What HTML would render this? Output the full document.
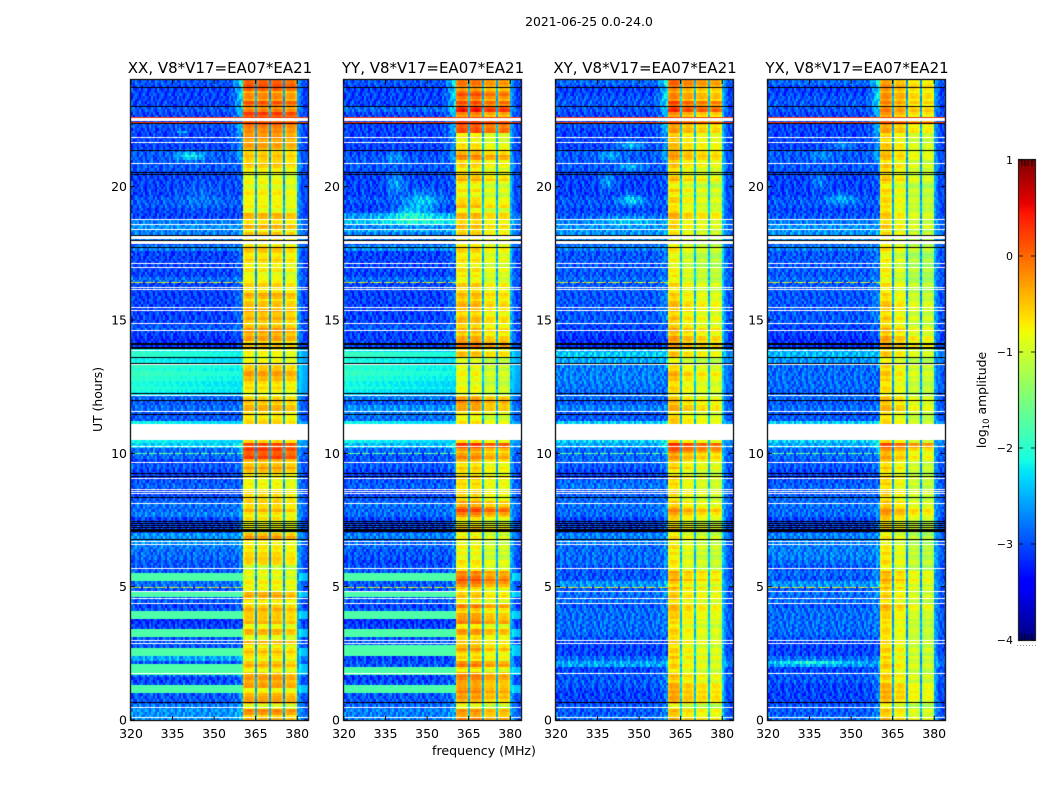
<!DOCTYPE html>
<html lang="en"><head><meta charset="utf-8"><title>2021-06-25 spectrogram</title>
<style>
html,body{margin:0;padding:0;background:#fff;width:1050px;height:800px;overflow:hidden}
#fig{position:relative;width:1050px;height:800px;background:#fff}
canvas{position:absolute;display:block}
svg{position:absolute;left:0;top:0}
text{font-family:"DejaVu Sans","Liberation Sans",sans-serif;fill:#000}
</style></head>
<body>
<div id="fig">
<canvas id="hm0" width="177" height="640" style="left:131px;top:80px"></canvas>
<canvas id="hm1" width="177" height="640" style="left:344px;top:80px"></canvas>
<canvas id="hm2" width="177" height="640" style="left:556px;top:80px"></canvas>
<canvas id="hm3" width="177" height="640" style="left:768px;top:80px"></canvas>
<canvas id="cb" width="16" height="480" style="left:1019px;top:160px"></canvas>
<svg id="ov" width="1050" height="800" viewBox="0 0 1050 800">
<text x="589" y="26" font-size="12.4" text-anchor="middle">2021-06-25 0.0-24.0</text>
<text x="220" y="73" font-size="15" text-anchor="middle">XX, V8*V17=EA07*EA21</text>
<text x="433" y="73" font-size="15" text-anchor="middle">YY, V8*V17=EA07*EA21</text>
<text x="645" y="73" font-size="15" text-anchor="middle">XY, V8*V17=EA07*EA21</text>
<text x="857" y="73" font-size="15" text-anchor="middle">YX, V8*V17=EA07*EA21</text>
<text x="484" y="755" font-size="12.6" text-anchor="middle">frequency (MHz)</text>
<text transform="translate(102,399.5) rotate(-90)" font-size="12.4" text-anchor="middle">UT (hours)</text>
<text transform="translate(986,400) rotate(-90)" font-size="12.4" text-anchor="middle">log<tspan font-size="8.5" dy="3">10</tspan><tspan dy="-3"> amplitude</tspan></text>
</svg>
</div>
<script>
// Tick labels
const xTicks = [320, 335, 350, 365, 380];
const yTicks = [0, 5, 10, 15, 20];
const cbTicks = [1, 0, -1, -2, -3, -4];

// log10 amplitude of the 320-360 MHz band, one value per 0.2 h (one line = 2 h)
const lowXX = [
-2.6,-2.6,-2.7,-2.9,-2.9,-2.9,-2.9,-3.0,-2.8,-2.9,
-2.9,-2.5,-2.9,-2.9,-2.9,-2.9,-2.9,-3.0,-3.1,-2.9,
-2.9,-3.0,-2.9,-2.9,-2.9,-2.8,-2.9,-2.9,-2.9,-2.9,
-2.8,-2.8,-2.7,-2.6,-2.6,-3.0,-3.0,-3.0,-2.7,-2.8,
-2.8,-2.9,-3.0,-2.8,-2.9,-3.0,-3.0,-2.9,-3.0,-2.8,
-2.8,-2.3,-2.2,-2.2,-2.2,-2.2,-2.9,-2.9,-2.8,-2.9,
-2.8,-2.1,-2.05,-2.0,-1.95,-1.95,-1.95,-2.1,-2.0,-2.1,
-3.1,-3.1,-3.0,-2.9,-3.0,-3.0,-3.0,-3.0,-3.0,-3.0,
-3.0,-3.0,-2.8,-3.0,-3.0,-3.0,-3.0,-3.0,-2.7,-3.0,
-2.7,-2.7,-2.6,-2.7,-3.0,-3.0,-2.9,-2.9,-3.0,-3.0,
-3.0,-3.0,-3.0,-2.9,-2.9,-2.9,-2.9,-3.0,-3.0,-3.0,
-3.0,-2.9,-3.0,-3.0,-2.9,-3.0,-3.0,-3.0,-3.0,-2.9];
const lowYY = [
-2.7,-2.7,-2.8,-2.9,-2.9,-2.9,-2.9,-3.0,-3.0,-2.9,
-2.9,-3.0,-2.9,-2.9,-2.9,-2.9,-2.9,-3.0,-3.1,-2.9,
-2.9,-3.0,-2.9,-2.9,-2.9,-2.9,-2.9,-2.9,-2.9,-3.0,
-2.9,-2.9,-2.8,-2.8,-2.7,-3.0,-3.0,-3.0,-2.8,-2.8,
-2.8,-2.9,-3.0,-2.8,-2.9,-3.0,-3.0,-2.9,-2.9,-2.9,
-2.8,-2.4,-2.2,-2.2,-2.2,-2.2,-2.8,-2.7,-2.6,-2.9,
-2.7,-2.2,-2.1,-2.05,-2.0,-1.95,-2.0,-2.05,-1.95,-2.2,
-3.0,-3.0,-3.0,-2.9,-3.0,-3.0,-3.0,-3.0,-3.0,-3.0,
-3.0,-3.0,-2.8,-3.0,-3.0,-3.0,-3.0,-3.0,-2.6,-3.0,
-2.7,-2.5,-2.7,-2.4,-2.6,-3.0,-3.0,-2.9,-3.0,-3.0,
-3.0,-3.0,-3.0,-2.9,-2.9,-2.9,-3.0,-3.0,-3.0,-3.0,
-3.0,-3.0,-3.0,-3.0,-2.8,-3.0,-3.0,-3.0,-3.0,-2.9];
const lowXY = [
-2.8,-2.9,-2.9,-3.0,-3.0,-3.0,-2.9,-2.9,-2.9,-3.0,
-2.5,-2.8,-3.0,-3.0,-3.0,-2.9,-2.8,-2.8,-2.8,-2.8,
-2.8,-2.9,-2.8,-2.8,-2.9,-2.6,-2.9,-2.9,-2.9,-2.8,
-2.8,-2.8,-2.8,-2.7,-2.7,-3.0,-3.0,-3.0,-2.8,-2.8,
-2.8,-2.8,-2.9,-2.7,-2.8,-3.0,-3.0,-2.9,-2.8,-2.8,
-2.8,-2.5,-2.3,-2.3,-2.3,-2.3,-2.9,-2.9,-2.7,-2.9,
-2.8,-2.8,-2.75,-2.7,-2.7,-2.7,-2.7,-2.5,-2.3,-2.5,
-3.1,-3.1,-3.0,-3.0,-2.9,-2.9,-2.9,-2.9,-2.9,-2.9,
-2.9,-2.9,-2.8,-2.9,-2.9,-2.9,-2.9,-2.9,-2.7,-2.9,
-2.6,-2.6,-2.6,-2.7,-2.9,-3.0,-2.9,-2.9,-3.0,-3.0,
-3.0,-3.0,-3.0,-2.9,-2.9,-2.9,-2.9,-3.0,-3.0,-3.0,
-3.0,-2.9,-2.9,-3.0,-2.9,-2.9,-2.9,-3.0,-3.0,-2.8];
const lowYX = [
-2.8,-2.9,-2.9,-3.0,-3.0,-3.0,-3.0,-2.9,-2.9,-3.0,
-2.6,-2.8,-3.0,-3.0,-3.0,-2.9,-2.8,-2.8,-2.8,-2.8,
-2.8,-2.9,-2.8,-2.8,-2.9,-2.6,-2.9,-2.8,-2.9,-2.8,
-2.7,-2.7,-2.7,-2.7,-2.7,-3.0,-3.0,-3.0,-2.8,-2.8,
-2.8,-2.8,-2.9,-2.8,-2.9,-3.0,-3.0,-2.9,-2.9,-2.8,
-2.8,-2.5,-2.3,-2.3,-2.3,-2.3,-2.9,-2.9,-2.8,-2.9,
-2.8,-2.85,-2.8,-2.8,-2.8,-2.8,-2.8,-2.6,-2.4,-2.5,
-3.1,-3.1,-3.0,-3.0,-2.9,-2.9,-2.9,-2.9,-2.9,-2.9,
-2.9,-2.9,-2.8,-2.9,-2.9,-2.9,-2.9,-2.9,-2.7,-2.9,
-2.6,-2.6,-2.6,-2.7,-2.9,-3.0,-2.9,-2.9,-3.0,-3.0,
-3.0,-3.0,-3.0,-2.9,-2.9,-2.9,-2.9,-3.0,-3.0,-3.0,
-3.0,-3.0,-2.9,-3.0,-2.9,-2.9,-2.9,-3.0,-3.0,-2.8];

// Flat calibrator strips in the low band, [start hour, end hour]
const stripsXX = [[1.05,1.33],[1.75,2.1],[2.45,2.7],[3.15,3.4],[3.8,4.1],[4.56,4.83],[5.25,5.5]];
const stripsYY = [[1.05,1.33],[1.75,2.0],[2.45,2.75],[3.15,3.4],[3.8,4.1],[4.56,4.83],[5.25,5.5]];
const stripsXY = [];
const stripsYX = [];
const stripLevel = -1.78;

// log10 amplitude of the 360-380 MHz blocks, one value per 0.2 h
const highXX = [
-.3,-.1,-.6,-.2,-.1,-.6,-.2,-.1,-.25,-.5,
-.3,-.6,-.35,-.5,-.35,-.6,-.3,-.55,-.3,-.45,
-.2,-.5,-.4,-.2,-.6,-.6,-.7,-.7,-.75,-.5,
-.3,-.5,-.6,-.5,-.2,-.7,-.7,-.5,-.6,-.3,
-.5,-.3,-.5,-.5,-.6,-.7,-.3,-.2,-.2,.1,
.15,.1,-.5,-.5,-.5,-.5,-.4,-.5,-.3,-.3,
-.5,-.6,-.5,-.3,-.2,-.2,-.4,-.5,-.7,-.5,
-.4,-.2,-.15,-.2,-.4,-.3,-.2,-.4,-.4,-.3,
-.4,-.5,-.5,-.7,-.6,-.5,-.4,-.4,-.4,-.6,
-.4,-.5,-.3,-.4,-.3,-.6,-.6,-.7,-.5,-.7,
-.6,-.7,-.6,-.5,-.3,-.4,-.3,-.2,-.1,-.05,
-.1,0,-.1,.2,-.05,.05,-.1,-.1,0,.15];
const highYY = [
-.1,-.2,-.6,-.4,-.05,-.05,-.3,-.05,-.1,-.5,
-.05,-.5,-.5,-.2,-.5,-.4,-.2,-.5,-.05,-.3,
-.4,-.1,-.5,-.4,-.5,-.05,0,-.1,-.5,-.6,
-.7,-.7,-.7,-.7,-.7,-.4,-.6,-.6,-.1,.05,
-.3,-.4,-.5,-.4,-.5,-.5,-.5,-.5,-.3,-.1,
-.2,.15,-.6,-.6,-.6,-.6,-.6,-.6,-.3,-.05,
-.3,-.7,-.7,-.7,-.7,-.7,-.7,-.7,-.4,-.5,
-.05,-.3,-.35,-.4,-.35,-.4,-.4,-.35,-.4,-.4,
-.4,-.5,-.6,-.6,-.6,-.6,-.5,-.5,-.5,-.5,
-.5,-.4,-.4,-.4,-.35,-.6,-.35,-.6,-.7,-.6,
-.6,-.3,-.4,-.6,-.4,-.1,-.2,-.6,-.6,-.6,
0,.1,0,-.05,.3,.05,-.05,0,-.2,0];
const highXY = [
-.3,-.4,-.6,-.3,-.1,-.2,-.3,-.4,-.4,-.5,
-.5,-.4,-.5,-.5,-.5,-.4,-.5,-.5,-.5,-.5,
-.3,-.4,-.4,-.4,-.3,-.5,-.2,-.3,-.5,-.6,
-.6,-.6,-.6,-.6,-.6,-.5,-.6,-.5,-.3,-.1,
-.5,-.5,-.5,-.4,-.5,-.5,-.6,-.4,-.3,-.2,
0,.2,-.5,-.5,-.5,-.5,-.3,-.6,-.3,-.3,
-.5,-.5,-.5,-.4,-.3,-.4,-.5,-.6,-.4,-.5,
-.2,-.2,-.3,-.3,-.5,-.4,-.4,-.4,-.4,-.5,
-.5,-.5,-.6,-.6,-.7,-.7,-.7,-.6,-.6,-.6,
-.6,-.5,-.5,-.4,-.3,-.4,-.6,-.5,-.6,-.5,
-.6,-.3,-.5,-.5,-.3,-.2,-.1,-.4,-.3,-.4,
-.2,-.1,-.1,-.1,.2,.1,-.1,-.1,-.1,.1];
const highYX = [
-.4,-.5,-.6,-.5,-.2,-.3,-.4,-.5,-.5,-.5,
-.5,-.5,-.6,-.5,-.6,-.5,-.6,-.5,-.6,-.6,
-.4,-.4,-.5,-.5,-.4,-.5,-.3,-.4,-.6,-.6,
-.6,-.6,-.7,-.7,-.7,-.6,-.6,-.5,-.3,-.2,
-.5,-.5,-.5,-.5,-.5,-.6,-.6,-.5,-.4,-.3,
-.2,0,-.6,-.6,-.6,-.6,-.5,-.6,-.4,-.4,
-.5,-.6,-.6,-.5,-.5,-.5,-.5,-.6,-.5,-.5,
-.3,-.3,-.4,-.4,-.6,-.5,-.5,-.5,-.5,-.6,
-.6,-.6,-.7,-.7,-.7,-.7,-.7,-.7,-.6,-.6,
-.6,-.6,-.5,-.5,-.5,-.5,-.6,-.6,-.6,-.6,
-.6,-.4,-.5,-.5,-.5,-.4,-.3,-.5,-.5,-.5,
-.3,-.2,-.2,-.2,-.1,-.1,-.2,-.2,-.2,-.1];

// Level offset of each of the four 5 MHz blocks
const blockOffsetXX = [.05, .05, .05, -.05];
const blockOffsetYY = [.1, .1, -.1, -.1];
const blockOffsetXY = [.1, -.1, -.2, -.25];
const blockOffsetYX = [.15, -.05, -.25, -.3];

// Shape across a block's six channels
const blockProfile = [-.15, -.03, 0, 0, -.03, -.15];
// Row-to-row ripple inside the blocks
const blockRipple = [.1,-.12,.04,.15,-.08,-.15,.06,.12,-.04,-.14,.09,-.06,.13];
// Level in the notch between blocks, per panel
const gapLevels = [-2.6, -2.5, -2.4, -2.6];
// Rise toward the block edge for the last seven low-band channels
const rampProfile = [.05, .1, .2, .35, .5, .7, .9];
// Strength of that rise per hour
const rampByHour = [.3,.3,.1,.1,.2,.2,.1,.3,.1,.2,.4,.1,0,.1,.2,.3,.2,.2,.1,.1,.2,.5,.7,.9];
// Channels above 380 MHz
const edgeProfile = [.25, .1, 0, 0, -.1, -.1];

// Broad emission features: hour, MHz, half-height (h), half-width (MHz), boost
const blobsXX = [[21.1,341,.14,5,.9],[22.0,338,.08,2,.6],[19.6,345,.5,8,.2]];
const blobsYY = [[20.06,338.4,.4,3,.5],[19.4,348,.4,6,.6],[19.0,343,.25,6,.5],[18.7,346.7,.2,15,.5],[21.05,338,.2,3,.4]];
const blobsXY = [[20.15,338.3,.3,2.5,.5],[19.45,346.7,.2,4,.7],[21.1,339,.15,4,.5],[21.5,346.7,.15,5,.6],[20.7,346.7,.15,4,.5],[18.7,346,.15,12,.5]];
const blobsYX = [[20.15,338.3,.3,2.5,.35],[19.5,346,.2,5,.5],[21.1,339,.15,4,.35],[21.5,346.7,.15,5,.35],[2.1,335,.08,14,.6]];

// Narrow lines of interference in the low band, hours
const rfiXX = [5.0, 16.42];
const rfiYY = [5.0, 16.42];
const rfiXY = [5.0, 16.42];
const rfiYX = [5.0, 16.42];
const rfiHalfDim = [10.0, 14.62];

// Hand-typed fine grain added to the cells
const grain = [
[.1,-.3,.4,-.1,-.4,.2,.5,-.2,0,-.4,.3,-.1,.2],
[-.4,.2,-.1,.3,.1,-.3,-.1,.4,-.4,.2,0,.5,-.3],
[.3,0,-.4,.5,-.2,.1,-.4,.2,.3,-.1,-.3,.1,-.2],
[-.1,.4,.2,-.3,0,.4,.1,-.4,.1,.5,-.2,-.4,.3],
[-.3,-.2,.1,.2,-.4,-.1,.3,0,-.3,.2,.4,-.1,.1],
[.5,-.1,-.3,0,.3,-.4,.2,.4,-.2,-.4,.1,.3,-.4],
[0,.3,-.2,-.4,.4,.1,-.3,-.1,.5,.1,-.4,.2,0],
[-.2,-.4,.5,.1,-.1,.3,0,-.4,.2,-.3,.3,-.2,.4],
[.2,.1,-.3,.4,-.4,-.2,.4,.1,-.1,.3,-.1,-.4,.1],
[-.4,.3,0,-.2,.2,.5,-.3,.2,-.4,0,.4,.1,-.3],
[.1,-.1,.3,-.4,-.3,0,.2,-.2,.4,-.4,-.2,.5,-.1]];
// Column shift of the grain on each row, breaks up the tile
const grainShift = [0,7,3,11,5,9,1,12,4,8,2,10,6,3,9,0,5];

// Flagged (blank) time ranges and single lines, hours
const whiteBands = [[10.5,11.1],[18.03,18.14],[17.85,17.96],[22.47,22.57]];
const whiteLines = [.1,.48,1.75,2.9,3.0,4.37,4.56,4.85,5.71,6.6,6.72,8.12,8.5,8.58,8.67,9.07,9.67,10.28,11.6,12.17,13.35,13.87,14.62,14.87,15.37,15.5,16.15,16.25,17.0,17.13,18.43,18.6,18.8,20.9,21.67,21.87];
const blackBands = [[7.05,7.17],[13.92,13.99],[21.33,21.38]];
const blackLines = [.68,6.78,7.22,7.31,7.4,7.47,8.35,9.15,9.26,11.47,12.0,12.27,13.4,13.6,14.1,14.15,17.75,18.0,18.18,20.46,20.56,22.4,23.02,23.72];
const hotLines = [22.62, 22.43];

const lows = [lowXX, lowYY, lowXY, lowYX];
const strips = [stripsXX, stripsYY, stripsXY, stripsYX];
const highs = [highXX, highYY, highXY, highYX];
const offsets = [blockOffsetXX, blockOffsetYY, blockOffsetXY, blockOffsetYX];
const blobs = [blobsXX, blobsYY, blobsXY, blobsYX];
const rfis = [rfiXX, rfiYY, rfiXY, rfiYX];

const panelLeft = [131, 344, 556, 768];
const panelW = 177, panelTop = 80, panelH = 640;
const CH = 0.72, DATA_STEP = 0.2, FINE_STEP = 0.1, HOURS = 24, NCH = 89, BLOCK_START = 56;
const LOW_SHIFT = -0.06, LOW_GRAIN = 0.72, HIGH_SHIFT = -0.2;

function xScale(f) { return (f - 320) * 2.77; }
function yScale(h) { return panelH - h * panelH / HOURS; }
function interp(x, x0, x1, y0, y1) { return y0 + (y1 - y0) * (x - x0) / (x1 - x0); }
function jet(t) {
  t = Math.max(0, Math.min(1, t));
  const seg = (pts) => {
    for (let i = 1; i < pts.length; i++) if (t <= pts[i][0]) return interp(t, pts[i-1][0], pts[i][0], pts[i-1][1], pts[i][1]);
    return pts[pts.length-1][1];
  };
  const r = seg([[0,0],[.35,0],[.66,1],[.89,1],[1,.5]]);
  const g = seg([[0,0],[.125,0],[.375,1],[.64,1],[.91,0],[1,0]]);
  const b = seg([[0,.5],[.11,1],[.34,1],[.65,0],[1,0]]);
  return 'rgb(' + Math.round(r*255) + ',' + Math.round(g*255) + ',' + Math.round(b*255) + ')';
}
function levelColor(v) { return jet((v + 4) / 5); }
function grainAt(r, c) {
  const row = grain[r % grain.length];
  return row[(c + grainShift[r % grainShift.length]) % row.length];
}
function lowAt(p, h) {
  const mid = h + FINE_STEP / 2;
  for (const s of strips[p]) if (mid >= s[0] && mid <= s[1]) return stripLevel;
  const di = Math.min(lows[p].length - 1, Math.floor(h / DATA_STEP));
  return lows[p][di];
}

function cellValue(p, r, c) {
  const h = r * FINE_STEP, f = 320 + c * CH;
  const di = Math.min(highs[p].length - 1, Math.floor(h / DATA_STEP));
  const low = lowAt(p, h), high = highs[p][di];
  const g = grainAt(r, c);
  if (c < BLOCK_START) {
    if (low === stripLevel) return low + g * 0.02;
    if (low > -2.25) return low + g * 0.22 + blockRipple[r % blockRipple.length] * 0.5 - (c / BLOCK_START) * 0.2;
    let v = low + LOW_SHIFT + g * LOW_GRAIN;
    const rampIdx = c - (BLOCK_START - rampProfile.length);
    if (rampIdx >= 0) v += rampProfile[rampIdx] * rampByHour[Math.floor(h)];
    for (const b of blobs[p]) {
      const dh = (h - b[0]) / b[2], df = (f - b[1]) / b[3];
      v += b[4] * Math.exp(-(dh*dh + df*df));
    }
    return v;
  }
  const k = c - BLOCK_START;
  if (k < 28) {
    const w = k % 7, bi = Math.floor(k / 7);
    if (w === 6) return gapLevels[p] + g * 0.4;
    const base = high > -0.05 ? high : high + HIGH_SHIFT;
    return base + offsets[p][bi] + blockProfile[w] + blockRipple[r % blockRipple.length] + g * 0.12;
  }
  const e = edgeProfile[Math.min(edgeProfile.length - 1, k - 28)];
  return low * 0.5 - 1.55 + e + g * (low > -2.25 ? 0.1 : 0.5);
}

function drawPanel(p) {
  const ctx = document.getElementById('hm' + p).getContext('2d');
  const nRows = Math.round(HOURS / FINE_STEP);
  for (let r = 0; r < nRows; r++) {
    const y1 = Math.round(yScale(r * FINE_STEP)), y0 = Math.round(yScale((r + 1) * FINE_STEP));
    for (let c = 0; c < NCH; c++) {
      const x0 = Math.round(xScale(320 + c * CH)), x1 = Math.round(xScale(320 + (c + 1) * CH));
      ctx.fillStyle = levelColor(cellValue(p, r, c));
      ctx.fillRect(x0, y0, x1 - x0, y1 - y0);
    }
  }
  const band = (a, b, col) => {
    const y0 = Math.round(yScale(b)), y1 = Math.round(yScale(a));
    ctx.fillStyle = col;
    ctx.fillRect(0, y0, panelW, Math.max(1, y1 - y0));
  };
  const line = (h, col) => {
    ctx.fillStyle = col;
    ctx.fillRect(0, Math.round(yScale(h)), panelW, 1);
  };
  // one-pixel interference lines through the low band
  const rfiLine = (h, base, amp) => {
    const r = Math.round(h / FINE_STEP);
    for (let c = 0; c < BLOCK_START; c++) {
      const g = grainAt(r, c);
      if (g < -0.35) continue;
      const x0 = Math.round(xScale(320 + c * CH)), x1 = Math.round(xScale(320 + (c + 1) * CH));
      ctx.fillStyle = levelColor(base + g * amp);
      ctx.fillRect(x0, Math.round(yScale(h)), x1 - x0, 1);
    }
  };
  rfis[p].forEach(h => rfiLine(h, -0.9, 1.6));
  rfiHalfDim.forEach(h => rfiLine(h, -1.7, 1.2));
  hotLines.forEach(h => line(h, levelColor(0.25)));
  whiteBands.forEach(b => band(b[0], b[1], '#fff'));
  whiteLines.forEach(h => line(h, '#fff'));
  blackBands.forEach(b => band(b[0], b[1], '#000'));
  blackLines.forEach(h => line(h, '#000'));
}

function drawColorbar() {
  const ctx = document.getElementById('cb').getContext('2d');
  const H = 480;
  for (let y = 0; y < H; y++) {
    ctx.fillStyle = jet(1 - (y + 0.5) / H);
    ctx.fillRect(0, y, 16, 1);
  }
}

const NS = 'http://www.w3.org/2000/svg';
const ov = document.getElementById('ov');
function svgEl(tag, attrs) {
  const el = document.createElementNS(NS, tag);
  for (const k in attrs) el.setAttribute(k, attrs[k]);
  ov.appendChild(el);
  return el;
}

function drawAxes(p) {
  const L = panelLeft[p], T = panelTop, B = T + panelH, R = L + panelW;
  const frame = svgEl('rect', {x: L - .5, y: T - .5, width: panelW + 1, height: panelH + 1, fill: 'none', stroke: '#222', 'stroke-width': 1.4});
  
  
  xTicks.forEach(t => {
    const x = L + xScale(t);
    const tickB = svgEl('line', {x1: x, x2: x, y1: B, y2: B - 4, stroke: '#000'});
    
    
    const tickT = svgEl('line', {x1: x, x2: x, y1: T, y2: T + 4, stroke: '#000'});
    
    
    const lab = svgEl('text', {x: x, y: 738, 'font-size': 12.5, 'text-anchor': 'middle'});
    lab.textContent = t;
    
    
  });
  yTicks.forEach(t => {
    const y = T + yScale(t);
    const tickL = svgEl('line', {x1: L, x2: L + 4, y1: y, y2: y, stroke: '#000'});
    
    
    const tickR = svgEl('line', {x1: R, x2: R - 4, y1: y, y2: y, stroke: '#000'});
    
    
    const lab = svgEl('text', {x: L - 4, y: y + 4.5, 'font-size': 12.5, 'text-anchor': 'end'});
    lab.textContent = t;
    
    
  });
}

function drawColorbarAxis() {
  const L = 1019, R = 1035, T = 160, H = 480;
  const frame = svgEl('rect', {x: L - .5, y: T - .5, width: R - L + 1, height: H + 1, fill: 'none', stroke: '#222', 'stroke-width': 1.2});
  
  
  cbTicks.forEach(t => {
    const y = T + (1 - t) * H / 5;
    const lab = svgEl('text', {x: 1013, y: y + 4, 'font-size': 11, 'text-anchor': 'end'});
    lab.textContent = String(t).replace('-', '\u2212');
    
    
    [[L, L + 4], [R - 4, R]].forEach(seg => {
      const tk = svgEl('line', {x1: seg[0], x2: seg[1], y1: y, y2: y, stroke: '#000', 'stroke-width': .8});
      
      
    });
  });
  [1022, 1025, 1028, 1032].forEach(x => {
    const a = svgEl('line', {x1: x, x2: x, y1: T, y2: T + 6, stroke: '#000', 'stroke-width': .8});
    
    
    const b = svgEl('line', {x1: x, x2: x, y1: T + H, y2: T + H - 6, stroke: '#000', 'stroke-width': .8});
    
    
  });
  const dots = svgEl('line', {x1: 1017, x2: 1036, y1: 645.5, y2: 645.5, stroke: '#999', 'stroke-width': 1, 'stroke-dasharray': '1 2'});
  
  
}

for (let p = 0; p < 4; p++) { drawPanel(p); drawAxes(p); }
drawColorbar();
drawColorbarAxis();
</script>
</body></html>
